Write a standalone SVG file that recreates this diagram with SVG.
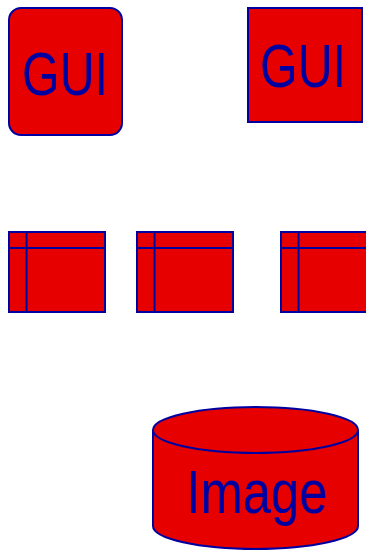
<svg xmlns="http://www.w3.org/2000/svg" width="366" height="553" viewBox="0 0 366 553">
<style>
.s{fill:#e60000;stroke:#0000a0;stroke-width:2}
.l{fill:none;stroke:#0000a0;stroke-width:2}
.t{fill:#0000a0;font-family:"Liberation Sans",Arial,sans-serif;font-size:62px;text-anchor:middle}
</style>
<g id="gui1">
<rect class="s" x="9" y="8" width="113" height="127" rx="12"/>
<text class="t" transform="translate(65,95) scale(0.78,1)">GUI</text>
</g>
<g id="gui2">
<rect class="s" x="248" y="8" width="114" height="114"/>
<text class="t" transform="translate(303,87) scale(0.78,1)">GUI</text>
</g>
<g id="win1">
<rect class="s" x="9" y="232" width="96" height="80"/>
<line class="l" x1="9" y1="248" x2="105" y2="248"/>
<line class="l" x1="26.5" y1="232" x2="26.5" y2="312"/>
</g>
<g id="win2">
<rect class="s" x="137" y="232" width="96" height="80"/>
<line class="l" x1="137" y1="248" x2="233" y2="248"/>
<line class="l" x1="154.5" y1="232" x2="154.5" y2="312"/>
</g>
<g id="win3">
<rect class="s" x="281" y="232" width="96" height="80"/>
<line class="l" x1="281" y1="248" x2="377" y2="248"/>
<line class="l" x1="298.5" y1="232" x2="298.5" y2="312"/>
</g>
<g id="image">
<path class="s" d="M153,430 L153,526 A102.5,23 0 0 0 358,526 L358,430"/>
<ellipse class="s" cx="255.5" cy="430" rx="102.5" ry="23"/>
<text class="t" transform="translate(257,513) scale(0.82,1)">Image</text>
</g>
<g id="connectors"/>
</svg>
